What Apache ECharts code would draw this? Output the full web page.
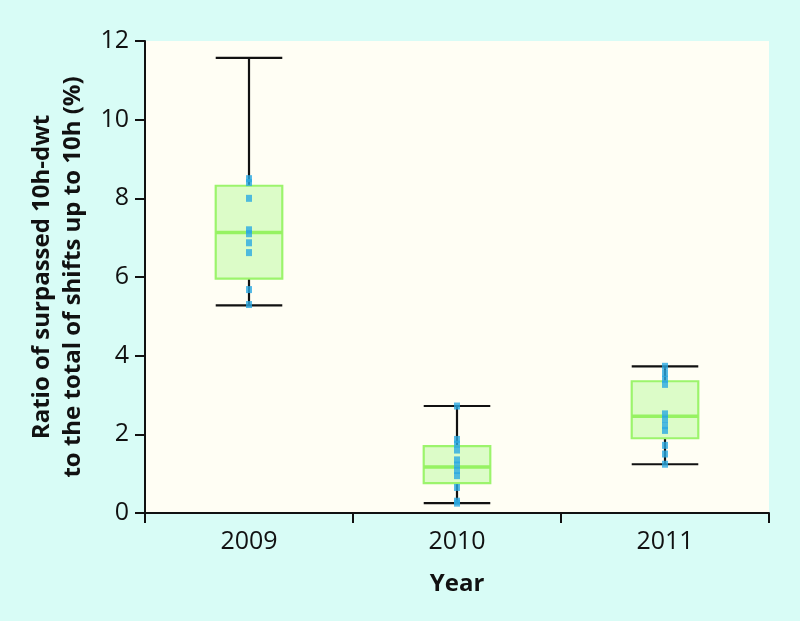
<!DOCTYPE html>
<html>
<head>
<meta charset="utf-8">
<script src="https://cdn.jsdelivr.net/npm/echarts@6/dist/echarts.min.js"></script>
<style>
html,body{margin:0;padding:0;background:#d8fcf6;}
#c{width:800px;height:621px;}
</style>
</head>
<body>
<div id="c"></div>
<script>
// Data
var categories = ['2009', '2010', '2011'];
// [min, Q1, median, Q3, max]
var boxStats = [
  [5.28, 5.96, 7.13, 8.32, 11.57],
  [0.25, 0.76, 1.17, 1.70, 2.72],
  [1.24, 1.90, 2.46, 3.35, 3.73]
];
var points2009 = [8.5, 8.4, 8.0, 7.2, 7.1, 6.87, 6.62, 5.68, 5.3];
var points2010 = [2.72, 1.87, 1.75, 1.6, 1.35, 1.22, 1.08, 0.95, 0.65, 0.3, 0.25];
var points2011 = [3.73, 3.55, 3.4, 3.27, 2.52, 2.38, 2.22, 2.1, 1.72, 1.5, 1.24];
var yTicks = [0, 2, 4, 6, 8, 10, 12];
var yTitle = 'Ratio of surpassed 10h-dwt\nto the total of shifts up to 10h (%)';
var xTitle = 'Year';

var FONT = "'Open Sans', sans-serif";

var boxData = boxStats.map(function (s, i) { return [i].concat(s); });
var pointData = [];
[points2009, points2010, points2011].forEach(function (arr, i) {
  arr.forEach(function (v) { pointData.push([i, v]); });
});

var chart = echarts.init(document.getElementById('c'), null, {renderer: 'canvas'});
chart.setOption({
  backgroundColor: '#d8fcf6',
  animation: false,
  grid: {left: 145, right: 31, top: 41, bottom: 108, show: true, backgroundColor: '#fffef4', borderWidth: 0},
  xAxis: {
    type: 'category',
    data: categories,
    boundaryGap: true,
    name: xTitle,
    nameLocation: 'middle',
    nameGap: 59,
    nameTextStyle: {fontFamily: FONT, fontWeight: 'bold', fontSize: 24, color: '#111'},
    axisLine: {lineStyle: {color: '#111', width: 2}},
    axisTick: {show: true, length: 10, lineStyle: {color: '#111', width: 2}, alignWithLabel: false},
    axisLabel: {fontFamily: FONT, fontSize: 25, color: '#111', margin: 16},
    splitLine: {show: false}
  },
  yAxis: {
    type: 'value',
    min: 0, max: 12, interval: 2,
    name: yTitle,
    nameLocation: 'middle',
    nameGap: 56,
    nameRotate: 90,
    nameTextStyle: {fontFamily: FONT, fontWeight: 'bold', fontSize: 24, color: '#111', lineHeight: 31, align: 'center'},
    axisLine: {show: true, lineStyle: {color: '#111', width: 2}},
    axisTick: {show: true, length: 10, lineStyle: {color: '#111', width: 2}},
    axisLabel: {fontFamily: FONT, fontSize: 25, color: '#111', margin: 16,
      formatter: function (v) { return yTicks.indexOf(v) >= 0 ? String(v) : ''; }},
    splitLine: {show: false}
  },
  series: [
    {
      type: 'custom',
      data: boxData,
      encode: {x: 0, y: [1, 2, 3, 4, 5]},
      renderItem: function (params, api) {
        var x = api.value(0);
        var pMin = api.coord([x, api.value(1)]);
        var pQ1 = api.coord([x, api.value(2)]);
        var pMed = api.coord([x, api.value(3)]);
        var pQ3 = api.coord([x, api.value(4)]);
        var pMax = api.coord([x, api.value(5)]);
        var w = api.size([1, 0])[0] * 0.32;
        var cx = pMin[0];
        var black = {stroke: '#111', lineWidth: 2.2};
        return {
          type: 'group',
          children: [
            {type: 'line', shape: {x1: cx, y1: pMax[1], x2: cx, y2: pQ3[1]}, style: black},
            {type: 'line', shape: {x1: cx, y1: pQ1[1], x2: cx, y2: pMin[1]}, style: black},
            {type: 'line', shape: {x1: cx - w / 2, y1: pMax[1], x2: cx + w / 2, y2: pMax[1]}, style: black},
            {type: 'line', shape: {x1: cx - w / 2, y1: pMin[1], x2: cx + w / 2, y2: pMin[1]}, style: black},
            {type: 'rect', shape: {x: cx - w / 2, y: pQ3[1], width: w, height: pQ1[1] - pQ3[1]},
              style: {fill: '#dcfcc8', stroke: '#9cf46c', lineWidth: 2.2}},
            {type: 'line', shape: {x1: cx - w / 2, y1: pMed[1], x2: cx + w / 2, y2: pMed[1]},
              style: {stroke: '#96f262', lineWidth: 3.5}}
          ]
        };
      },
      z: 2
    },
    {
      type: 'scatter',
      data: pointData,
      symbol: 'rect',
      symbolSize: [6, 7],
      itemStyle: {color: '#2aa9e2'},
      z: 3
    }
  ]
});
</script>
</body>
</html>
